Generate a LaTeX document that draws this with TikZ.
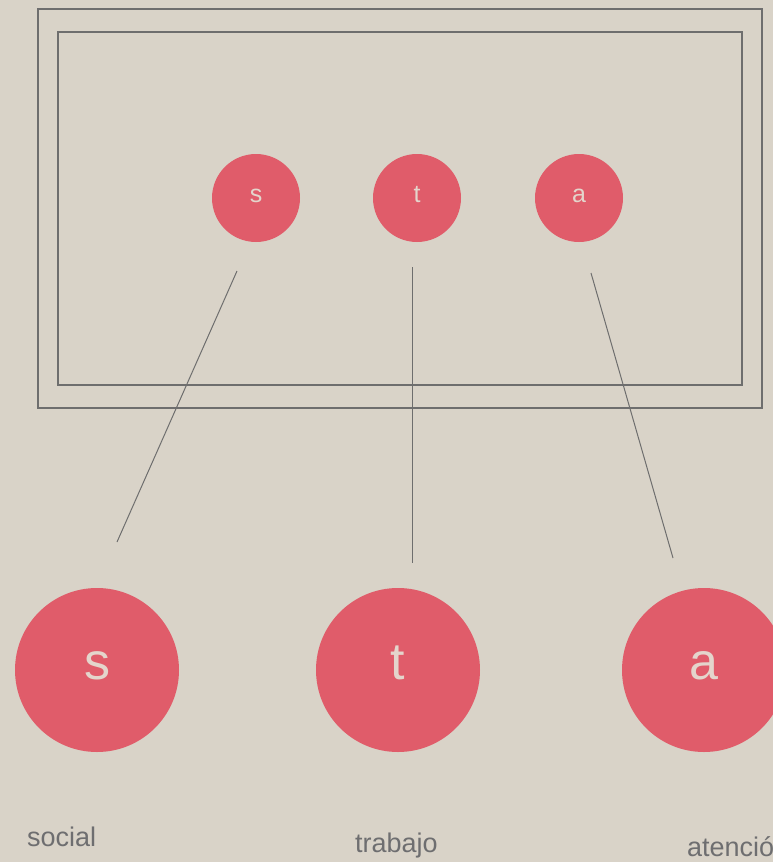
\documentclass[tikz,border=0pt]{standalone}
\usepackage{fontspec}
\setmainfont{Liberation Sans}
\definecolor{paper}{HTML}{D9D3C8}
\definecolor{dot}{HTML}{E05C6A}
\definecolor{letter}{HTML}{E4D5CC}
\definecolor{frame}{HTML}{6E6E6E}
\definecolor{caption}{HTML}{6E6E70}
\tikzset{small dot/.style={circle,fill=dot,minimum size=88pt,inner sep=0pt,text=letter,font=\fontsize{25}{25}\selectfont,text height=9pt,text depth=0pt}}
\tikzset{big dot/.style={small dot,minimum size=164pt,font=\fontsize{52}{52}\selectfont,text height=18pt}}
\tikzset{frame line/.style={draw=frame,line width=2.5pt}}
\tikzset{link/.style={draw=frame,line width=1pt}}
\tikzset{area name/.style={anchor=base west,inner sep=0pt,text=caption,font=\fontsize{27}{27}\selectfont}}

\begin{document}
\begin{tikzpicture}[x=1pt,y=-1pt]
\clip(0,0)rectangle(773,862);
\fill[paper](0,0)rectangle(773,862);
% double frame
\draw[frame line](38,9)rectangle(762,408);
\draw[frame line](58,32)rectangle(742,385);
% small dots inside the frame
\node[small dot](s)at(256,198){s};
\node[small dot](t)at(417,198){t};
\node[small dot](a)at(579,198){a};
% big dots
\node[big dot](social dot)at(97,670){s};
\node[big dot](trabajo dot)at(398,670){t};
\node[big dot](atencion dot)at(704,670){a};
% links
\coordinate(s top)at(237,271);
\coordinate(s end)at(117,542);
\coordinate(t top)at(412,267);
\coordinate(t end)at(412,563);
\coordinate(a top)at(591,273);
\coordinate(a end)at(673,558);
\draw[link](s top)--(s end);
\draw[link](t top)--(t end);
\draw[link](a top)--(a end);
% names
\node[area name](social)at(27,846){social};
\node[area name](trabajo)at(355,852){trabajo};
\node[area name](atencion)at(687,856){atención};
\end{tikzpicture}
\end{document}
